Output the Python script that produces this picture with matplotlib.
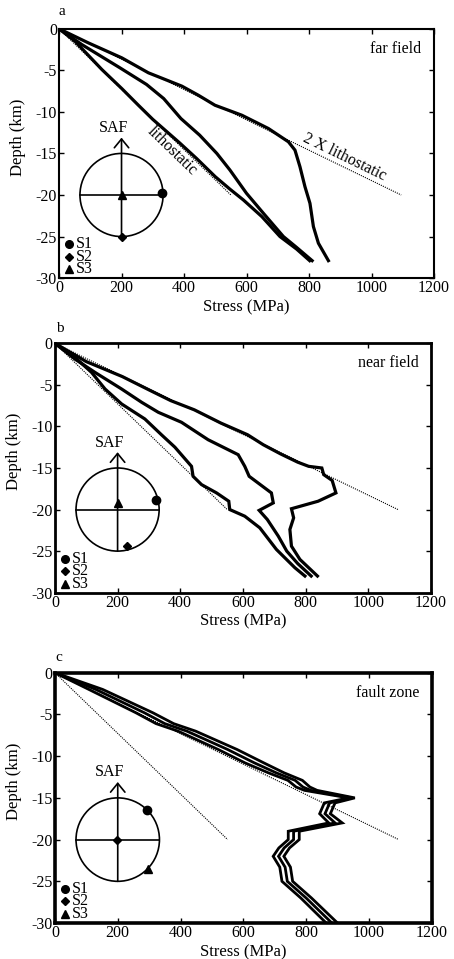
import math

import matplotlib.pyplot as plt
from matplotlib.patches import Ellipse

plt.rcParams["font.family"] = ["Liberation Serif", "DejaVu Serif"]
plt.rcParams["axes.unicode_minus"] = False
plt.rcParams["font.size"] = 11.5

FIG_W, FIG_H = 454, 959

# far field (a)
a_upper_x = [0, 94, 201, 286, 393, 446, 499, 585, 670, 734, 755, 771, 787, 803, 814, 830, 862]
a_upper_z = [0, -1.7, -3.5, -5.3, -6.9, -8.0, -9.2, -10.4, -12.0, -13.6, -14.6, -16.6, -19.0, -21.0, -23.8, -25.8, -27.9]
a_mid_x = [0, 73, 195, 280, 335, 390, 450, 505, 547, 600, 654, 718, 760, 810]
a_mid_z = [0, -1.9, -4.7, -6.7, -8.4, -10.8, -12.8, -15.0, -17.0, -19.8, -22.2, -25.0, -26.3, -27.9]
a_low_x = [0, 51, 137, 201, 254, 300, 385, 440, 500, 547, 590, 649, 707, 760, 802]
a_low_z = [0, -1.5, -4.9, -7.2, -9.2, -10.9, -13.7, -15.6, -17.8, -19.3, -20.6, -22.6, -25.0, -26.5, -27.9]

# near field (b)
b_upper_x = [0, 100, 215, 300, 370, 445, 530, 615, 665, 720, 775, 810, 852, 858, 885, 897, 840, 755, 762, 750, 755, 782, 838]
b_upper_z = [0, -2.2, -4.0, -5.6, -6.9, -8.0, -9.6, -11.0, -12.2, -13.3, -14.3, -14.8, -15.0, -15.8, -16.5, -18.0, -19.0, -19.9, -21.0, -22.4, -24.4, -26.0, -28.0]
b_mid_x = [0, 64, 128, 213, 277, 330, 404, 489, 585, 606, 620, 691, 697, 652, 678, 713, 740, 775, 818]
b_mid_z = [0, -1.9, -3.5, -5.5, -7.1, -8.3, -9.5, -11.6, -13.4, -14.8, -16.0, -18.0, -19.2, -20.1, -21.2, -23.2, -25.0, -26.5, -28.0]
b_low_x = [0, 64, 117, 160, 213, 287, 340, 383, 436, 441, 468, 516, 555, 558, 606, 654, 707, 766, 798]
b_low_z = [0, -1.7, -3.5, -5.5, -7.3, -9.1, -11.0, -12.5, -14.8, -16.0, -17.0, -18.0, -19.0, -20.0, -20.8, -22.2, -24.8, -27.0, -28.0]

# fault zone (c)
c_z = [0, -2.0, -4.8, -6.1, -7.0, -9.2, -10.8, -12.0, -12.9, -13.7, -14.1, -15.0, -15.6, -16.9, -18.0, -19.0, -20.0, -21.0, -22.0, -23.3, -25.0, -27.0, -30.0]
c_left_x = [0, 108, 258, 322, 392, 520, 605, 680, 742, 768, 795, 935, 858, 843, 872, 743, 743, 713, 695, 716, 723, 783, 864]
c_mid_x = [0, 130, 285, 350, 420, 550, 635, 705, 765, 790, 815, 945, 875, 860, 892, 760, 760, 730, 712, 733, 740, 800, 882]
c_right_x = [0, 152, 312, 378, 448, 580, 665, 730, 788, 812, 835, 955, 892, 877, 915, 778, 778, 747, 729, 750, 757, 817, 900]

litho_end = (550, -20)
dlitho_end = (1095, -20)

# stress axes on the stereo circle: (S1, S2, S3)
a_axes = [(330, -19.8), (200, -25.0), (200, -20.0)]
b_axes = [(322, -18.8), (230, -24.4), (202, -19.2)]
c_axes = [(293, -16.4), (198, -20.0), (295, -23.5)]

x_ticks = [0, 200, 400, 600, 800, 1000, 1200]
y_ticks = [0, -5, -10, -15, -20, -25, -30]

fig = plt.figure(figsize=(FIG_W / 100, FIG_H / 100), dpi=100)


def draw_panel(rect, curves, stress_axes, title, letter, letter_xy, spine_w, curve_w):
    ax = fig.add_axes(rect)
    axw = rect[2] * FIG_W
    axh = rect[3] * FIG_H
    px_mpa = axw / 1200
    px_km = axh / 30

    ax.plot([0, litho_end[0]], [0, litho_end[1]], color="k", lw=0.8, ls=(0, (1, 1)), zorder=1)
    ax.plot([0, dlitho_end[0]], [0, dlitho_end[1]], color="k", lw=0.8, ls=(0, (1, 1)), zorder=1)
    for xs, zs in curves:
        ax.plot(xs, zs, color="k", lw=curve_w, solid_joinstyle="miter", zorder=3)

    # stereonet
    rx = 5 * px_km / px_mpa
    ax.add_patch(Ellipse((200, -20), 2 * rx, 10, fill=False, lw=1.2, ec="k", zorder=2))
    ax.plot([200 - rx, 200 + rx], [-20, -20], color="k", lw=1.2, zorder=2)
    ax.annotate("", xy=(200, -13.1), xytext=(200, -25),
                arrowprops=dict(arrowstyle="->,head_length=0.55,head_width=0.45",
                                lw=1.2, color="k", shrinkA=0, shrinkB=0), zorder=2)
    ax.text(175, -12.9, "SAF", ha="center", va="bottom", fontsize=11.5)

    markers = ["o", "D", "^"]
    sizes = [6, 4.5, 6]
    for (sx, sz), m, s in zip(stress_axes, markers, sizes):
        ax.plot(sx, sz, marker=m, ms=s, color="k", ls="none", zorder=4)
    for i, (m, s) in enumerate(zip(markers, sizes)):
        yy = -25.9 - 1.5 * i
        ax.plot(32, yy, marker=m, ms=s - 0.5, color="k", ls="none")
        ax.text(55, yy, f"S{i + 1}", va="center", ha="left", fontsize=11.5)

    ax.text(1160, -2.4, title, ha="right", va="center", fontsize=11.5)

    ax.set_xlim(0, 1200)
    ax.set_ylim(-30, 0)
    ax.set_xticks(x_ticks)
    ax.set_yticks(y_ticks)
    ax.tick_params(direction="in", top=True, right=True, length=3.5, width=1, pad=1.5, labelsize=11.5)
    for sp in ax.spines.values():
        sp.set_linewidth(spine_w)
    ax.set_xlabel("Stress (MPa)", fontsize=12, labelpad=2)
    ax.set_ylabel("Depth (km)", fontsize=12)
    ax.yaxis.set_label_coords(-0.088, 0.565)
    fig.text(letter_xy[0], letter_xy[1], letter, fontsize=11, ha="center", va="center")
    return ax, px_mpa, px_km


ax_a, pm, pk = draw_panel(
    [0.130, 0.710, 0.826, 0.260],
    [(a_upper_x, a_upper_z), (a_mid_x, a_mid_z), (a_low_x, a_low_z)],
    a_axes, "far field", "a", (0.137, 0.9885), 1.5, 2.3,
)
ang1 = -math.degrees(math.atan2(-litho_end[1] * pk, litho_end[0] * pm))
ang2 = -math.degrees(math.atan2(-dlitho_end[1] * pk, dlitho_end[0] * pm))
ax_a.text(362, -14.7, "lithostatic", rotation=ang1, rotation_mode="anchor",
          ha="center", va="center", fontsize=11.5)
ax_a.text(912, -15.4, "2 X lithostatic", rotation=ang2, rotation_mode="anchor",
          ha="center", va="center", fontsize=11.5)

draw_panel(
    [0.121, 0.382, 0.828, 0.260],
    [(b_upper_x, b_upper_z), (b_mid_x, b_mid_z), (b_low_x, b_low_z)],
    b_axes, "near field", "b", (0.132, 0.657), 2.0, 2.3,
)

draw_panel(
    [0.121, 0.0375, 0.830, 0.261],
    [(c_left_x, c_z), (c_mid_x, c_z), (c_right_x, c_z)],
    c_axes, "fault zone", "c", (0.130, 0.314), 2.6, 2.0,
)

fig.savefig("out.png", dpi=100)
